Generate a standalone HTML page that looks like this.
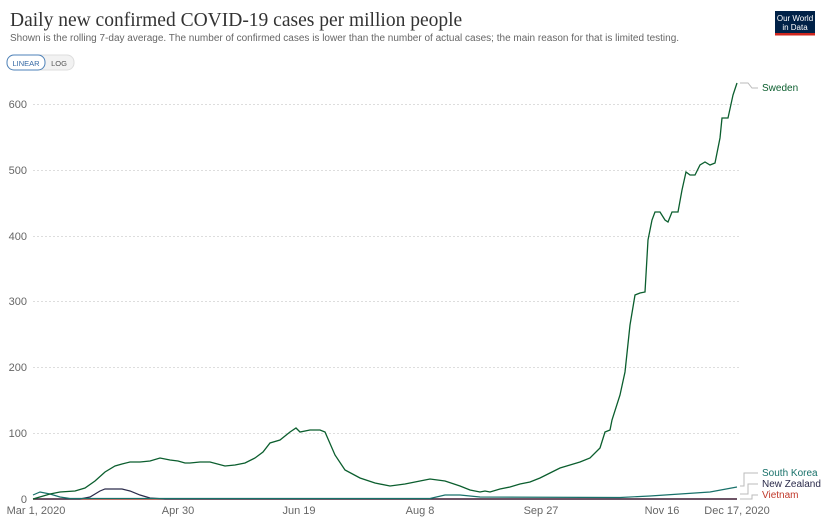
<!DOCTYPE html>
<html><head><meta charset="utf-8"><style>
body{margin:0;width:825px;height:520px;background:#fff;overflow:hidden;font-family:"Liberation Sans",sans-serif}
</style></head><body>
<svg width="825" height="520" xmlns="http://www.w3.org/2000/svg" font-family="Liberation Sans, sans-serif">
<text x="10" y="26" font-family="Liberation Serif, serif" font-size="19.5" fill="#333">Daily new confirmed COVID-19 cases per million people</text>
<text x="10" y="41" font-size="10" fill="#666">Shown is the rolling 7-day average. The number of confirmed cases is lower than the number of actual cases; the main reason for that is limited testing.</text>
<rect x="775" y="11" width="40" height="24" fill="#002147"/>
<rect x="775" y="33" width="40" height="2.5" fill="#ce261e"/>
<text x="795" y="21" font-size="8" fill="#fff" text-anchor="middle">Our World</text>
<text x="795" y="30" font-size="8" fill="#fff" text-anchor="middle">in Data</text>
<rect x="7" y="55" width="67" height="15" rx="7" fill="#f2f2f2" stroke="#ddd"/>
<rect x="7" y="55" width="38" height="15" rx="7" fill="#fff" stroke="#4d81b8"/>
<text x="26" y="66" font-size="7.5" fill="#3568a4" text-anchor="middle">LINEAR</text>
<text x="59" y="66" font-size="7.5" fill="#555" text-anchor="middle">LOG</text>
<g stroke="#ddd" stroke-dasharray="2,2">
<line x1="33" x2="740" y1="104.5" y2="104.5"/><line x1="33" x2="740" y1="170.5" y2="170.5"/><line x1="33" x2="740" y1="236.5" y2="236.5"/><line x1="33" x2="740" y1="301.5" y2="301.5"/><line x1="33" x2="740" y1="367.5" y2="367.5"/><line x1="33" x2="740" y1="433.5" y2="433.5"/>
</g>
<g font-size="11" fill="#666" text-anchor="end">
<text x="27" y="108">600</text><text x="27" y="174">500</text><text x="27" y="240">400</text><text x="27" y="305">300</text><text x="27" y="371">200</text><text x="27" y="437">100</text><text x="27" y="503">0</text>
</g>
<g font-size="11" fill="#666" text-anchor="middle">
<text x="36" y="514">Mar 1, 2020</text><text x="178" y="514">Apr 30</text><text x="299" y="514">Jun 19</text><text x="420" y="514">Aug 8</text><text x="541" y="514">Sep 27</text><text x="662" y="514">Nov 16</text><text x="737" y="514">Dec 17, 2020</text>
</g>
<polyline fill="none" stroke="#c0392b" stroke-width="1.5" points="33,499 737,499"/>
<polyline fill="none" stroke="#2a2a4a" stroke-width="1.2" points="33,499 80,499 90,497 100,491 105,489 122,489 130,491 140,495 150,498 165,499 737,499"/>
<polyline fill="none" stroke="#18716a" stroke-width="1.2" points="33,495 40,492 50,494 60,497 70,498.5 430,498.5 445,495 460,495 480,497 620,497.5 650,496 680,494 710,492 737,487"/>
<polyline fill="none" stroke="#0b5e2e" stroke-width="1.3" points="33,499 50,494 60,492 75,491 85,488 95,481 105,472 115,466 122,464 130,462 140,462 150,461 160,458 170,460 178,461 185,463 190,463 200,462 210,462 225,466 235,465 245,463 255,458 263,452 270,443 280,440 290,432 296,428 300,432 310,430 320,430 325,432 335,455 345,470 360,478 375,483 390,486 405,484 420,481 430,479 445,481 460,486 470,490 480,492 485,491 490,492 500,489 510,487 520,484 530,482 540,478 550,473 560,468 570,465 580,462 590,458 600,448 605,432 610,430 612,420 620,395 625,372 630,325 635,295 640,293 645,292 648,240 652,220 655,212 660,212 665,220 668,222 672,212 678,212 682,190 686,172 690,175 695,175 700,165 705,162 710,165 715,163 720,138 722,118 728,118 733,95 737,83"/>
<g fill="none" stroke="#bbb" stroke-width="1">
<polyline points="740,83 748,83 752,88 758,88"/>
<polyline points="740,486 744,486 744,473 758,473"/>
<polyline points="740,494 748,494 748,484 758,484"/>
<polyline points="740,499 752,499 752,495 758,495"/>
</g>
<g font-size="10">
<text x="762" y="91" fill="#0b5e2e">Sweden</text>
<text x="762" y="476" fill="#18716a">South Korea</text>
<text x="762" y="487" fill="#2a2a4a">New Zealand</text>
<text x="762" y="498" fill="#c0392b">Vietnam</text>
</g>
</svg>
</body></html>
